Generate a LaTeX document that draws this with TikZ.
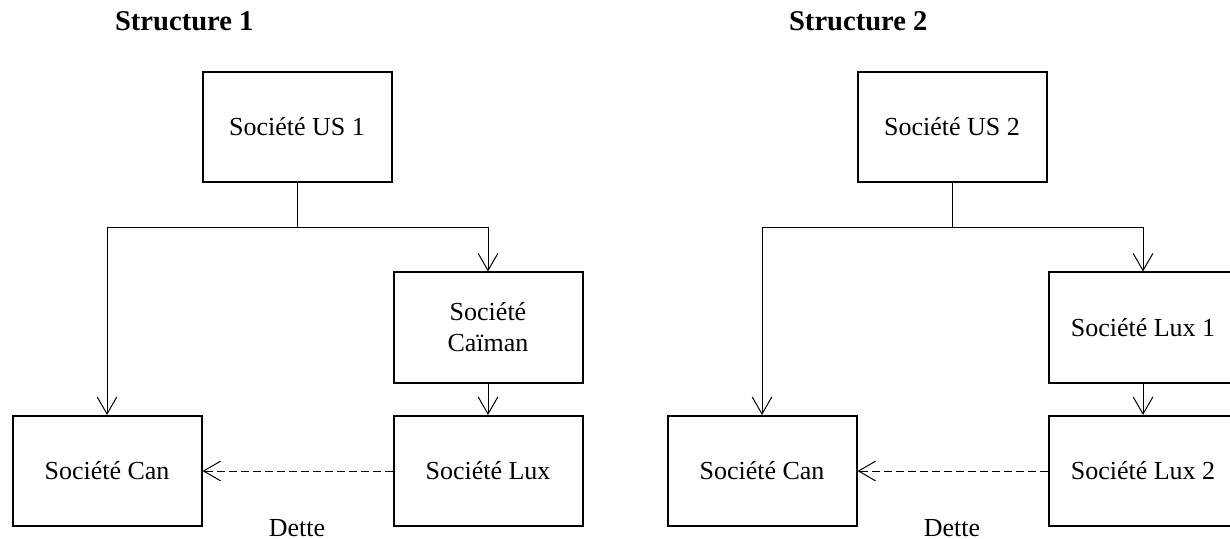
\documentclass[tikz,border=0pt]{standalone}
\usepackage{fontspec}
\setmainfont{Liberation Serif}
\usepackage{tikz}
\usetikzlibrary{arrows.meta,positioning}

\begin{document}
\begin{tikzpicture}[x=0.5pt, y=-0.5pt, every node/.style={font=\fontsize{13pt}{15.5pt}\selectfont}]
    % Define styles
    \tikzstyle{societe} = [rectangle, draw, line width=1pt, minimum width=94.5pt, minimum height=55pt,
                           align=center, inner sep=0pt]
    \tikzstyle{titre} = [anchor=base west, font=\fontsize{14.3pt}{17pt}\selectfont\bfseries]
    \tikzstyle{lien} = [-{Straight Barb[length=8.5pt,width=9.8pt]}, line width=0.5pt]
    \tikzstyle{dette} = [lien, dash pattern=on 3.8pt off 2.2pt]

    \useasboundingbox (0,0) rectangle (1230,539);

    % Structure 1
    \node[titre] (titre1) at (108,31) {Structure 1};
    \node[societe] (us1) at (297,127) {Société US 1};
    \node[societe] (caiman) at (488,327.5) {Société\\Caïman};
    \node[societe] (can1) at (107,471) {Société Can};
    \node[societe] (lux) at (488,471) {Société Lux};
    \node[anchor=base] (dette1) at (297,536) {Dette};

    \coordinate (noeud1) at (297,228);
    \draw[line width=0.5pt] (us1) -- (noeud1);
    \draw[lien] (noeud1) -| (can1);
    \draw[lien] (noeud1) -| (caiman);
    \draw[lien] (caiman) -- (lux);
    \draw[dette] (lux) -- (can1);

    % Structure 2
    \node[titre] (titre2) at (782,31) {Structure 2};
    \node[societe] (us2) at (952,127) {Société US 2};
    \node[societe] (lux1) at (1143,327.5) {Société Lux 1};
    \node[societe] (can2) at (762,471) {Société Can};
    \node[societe] (lux2) at (1143,471) {Société Lux 2};
    \node[anchor=base] (dette2) at (952,536) {Dette};

    \coordinate (noeud2) at (952,228);
    \draw[line width=0.5pt] (us2) -- (noeud2);
    \draw[lien] (noeud2) -| (can2);
    \draw[lien] (noeud2) -| (lux1);
    \draw[lien] (lux1) -- (lux2);
    \draw[dette] (lux2) -- (can2);
\end{tikzpicture}
\end{document}
